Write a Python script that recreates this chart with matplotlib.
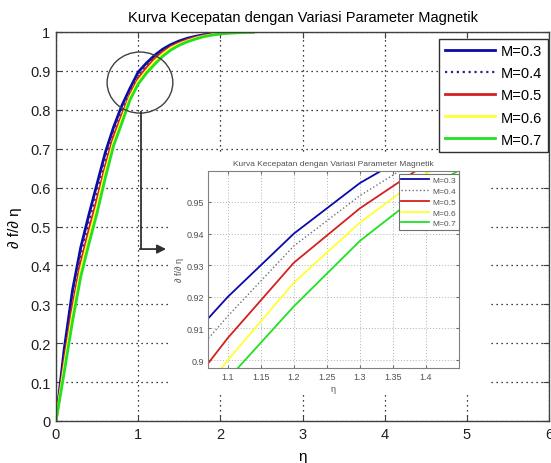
import matplotlib
matplotlib.use("Agg")
import matplotlib.pyplot as plt
from matplotlib.patches import Ellipse, Rectangle
from matplotlib.ticker import FuncFormatter
import numpy as np

plt.rcParams['font.family'] = ['Liberation Sans', 'DejaVu Sans']

# ---------------- data ----------------
eta = [0.0, 0.1, 0.2, 0.3, 0.4, 0.5, 0.6, 0.7, 0.8, 0.9, 1.0, 1.1, 1.2,
       1.3, 1.4, 1.5, 1.6, 1.7, 1.8, 1.9, 2.0, 2.1, 2.2, 2.3, 2.4]
f_M03 = [0, .185, .335, .445, .530, .610, .690, .755, .810, .855, .897, .920, .940,
         .956, .968, .977, .984, .989, .993, .996, .998, .999, 1.0, 1.0, 1.0]
f_M04 = [0, .171, .317, .428, .513, .593, .675, .745, .800, .846, .890, .9139, .9361,
         .952, .965, .974, .982, .987, .992, .995, .997, .998, .999, 1.0, 1.0]
f_M05 = [0, .152, .291, .404, .489, .569, .654, .730, .785, .838, .880, .907, .9308,
         .948, .962, .972, .980, .986, .991, .994, .996, .998, .999, 1.0, 1.0]
f_M06 = [0, .139, .273, .387, .472, .552, .640, .717, .775, .832, .873, .900, .9245,
         .9435, .959, .969, .977, .984, .989, .993, .996, .997, .998, .999, 1.0]
f_M07 = [0, .125, .255, .370, .455, .535, .625, .707, .765, .825, .866, .894, .917,
         .9377, .954, .966, .975, .982, .988, .992, .995, .997, .998, .999, 1.0]
labels = ["M=0.3", "M=0.4", "M=0.5", "M=0.6", "M=0.7"]
series = [f_M03, f_M04, f_M05, f_M06, f_M07]
colors = ["#0a0aa8", "#2a2a8a", "#d42020", "#ffff33", "#22e022"]
styles = ["-", ":", "-", "-", "-"]

title = "Kurva Kecepatan dengan Variasi Parameter Magnetik"
xlabel = "η"
ylabel = "∂ f/∂ η"

W, H = 551, 464
fig = plt.figure(figsize=(W / 100, H / 100), dpi=100)

def fr(x0, y0, x1, y1):
    return [x0 / W, 1 - y1 / H, (x1 - x0) / W, (y1 - y0) / H]

gfmt = FuncFormatter(lambda v, p: "%g" % round(v, 4))

# ---------------- main axes ----------------
ax = fig.add_axes(fr(56, 33, 549, 422))
for y, lab, c, ls in zip(series, labels, colors, styles):
    ax.plot(eta, y, ls, color=c, lw=2.0 if ls == "-" else 1.6, label=lab)
ax.set_xlim(0, 6)
ax.set_ylim(0, 1)
ax.set_xticks(range(0, 7))
ax.set_yticks(np.arange(0, 1.01, 0.1))
ax.yaxis.set_major_formatter(gfmt)
ax.grid(True, color="black", linestyle=(0, (1, 3)), linewidth=0.9)
ax.tick_params(direction="in", top=True, right=True, labelsize=10.5, length=4,
               color="#404040", labelcolor="#202020", pad=4)
for s in ax.spines.values():
    s.set_color("#404040")
    s.set_linewidth(1.0)
ax.set_title(title, fontsize=10.5, pad=8)
ax.set_xlabel(xlabel, fontsize=11, labelpad=6)
ax.set_ylabel(ylabel, fontsize=11, labelpad=6)
leg = ax.legend(loc="upper right", bbox_to_anchor=(0.9975, 0.983), fontsize=10.5,
                handlelength=3.4, labelspacing=0.55, borderpad=0.4, fancybox=False,
                framealpha=1, edgecolor="#303030", handletextpad=0.4, borderaxespad=0)
leg.get_frame().set_linewidth(1.0)

# circle and arrow
ell = Ellipse((1.022, 0.870), 0.80, 0.157, fill=False, edgecolor="#404040", lw=1.0,
              clip_on=False, zorder=5)
ax.add_patch(ell)
ax.plot([1.035, 1.035], [0.794, 0.442], color="#303030", lw=1.3, zorder=5)
ax.annotate("", xy=(1.34, 0.442), xytext=(1.02, 0.442),
            arrowprops=dict(arrowstyle="-|>", color="#303030", lw=1.3,
                            mutation_scale=13, shrinkA=0, shrinkB=0), zorder=5)

# white backing for inset
fig.patches.append(Rectangle((168 / W, 1 - 395 / H), (490 - 168) / W, (395 - 155) / H,
                             transform=fig.transFigure, facecolor="white",
                             edgecolor="none", zorder=1))

# ---------------- inset axes ----------------
ia = fig.add_axes(fr(208, 172, 459, 369), zorder=2)
for y, lab, c, ls in zip(series, labels, colors, styles):
    cc = "#707070" if ls == ":" else c
    ia.plot(eta, y, ls, color=cc, lw=1.3 if ls == "-" else 1.0, label=lab)
ia.set_xlim(1.07, 1.45)
ia.set_ylim(0.8975, 0.9598)
ia.set_xticks(np.arange(1.1, 1.401, 0.05))
ia.set_yticks(np.arange(0.9, 0.951, 0.01))
ia.xaxis.set_major_formatter(gfmt)
ia.yaxis.set_major_formatter(gfmt)
ia.grid(True, color="#b0b0b0", linestyle=(0, (1, 2)), linewidth=0.7)
ia.tick_params(direction="in", top=True, right=True, labelsize=6.5, length=2.5,
               color="#707070", labelcolor="#505050", pad=3)
for s in ia.spines.values():
    s.set_color("#808080")
    s.set_linewidth(0.8)
ia.set_title(title, fontsize=6, color="#505050", pad=4)
ia.set_xlabel(xlabel, fontsize=6.5, color="#505050", labelpad=2)
ia.set_ylabel(ylabel, fontsize=6.5, color="#505050", labelpad=2)
il = ia.legend(loc="upper right", bbox_to_anchor=(1.0, 0.985), fontsize=6,
               handlelength=3.4, labelspacing=0.35, borderpad=0.3, fancybox=False,
               framealpha=1, edgecolor="#707070", handletextpad=0.4, borderaxespad=0)
il.get_frame().set_linewidth(0.8)
for t in il.get_texts():
    t.set_color("#505050")

fig.savefig("out.png", dpi=100)
